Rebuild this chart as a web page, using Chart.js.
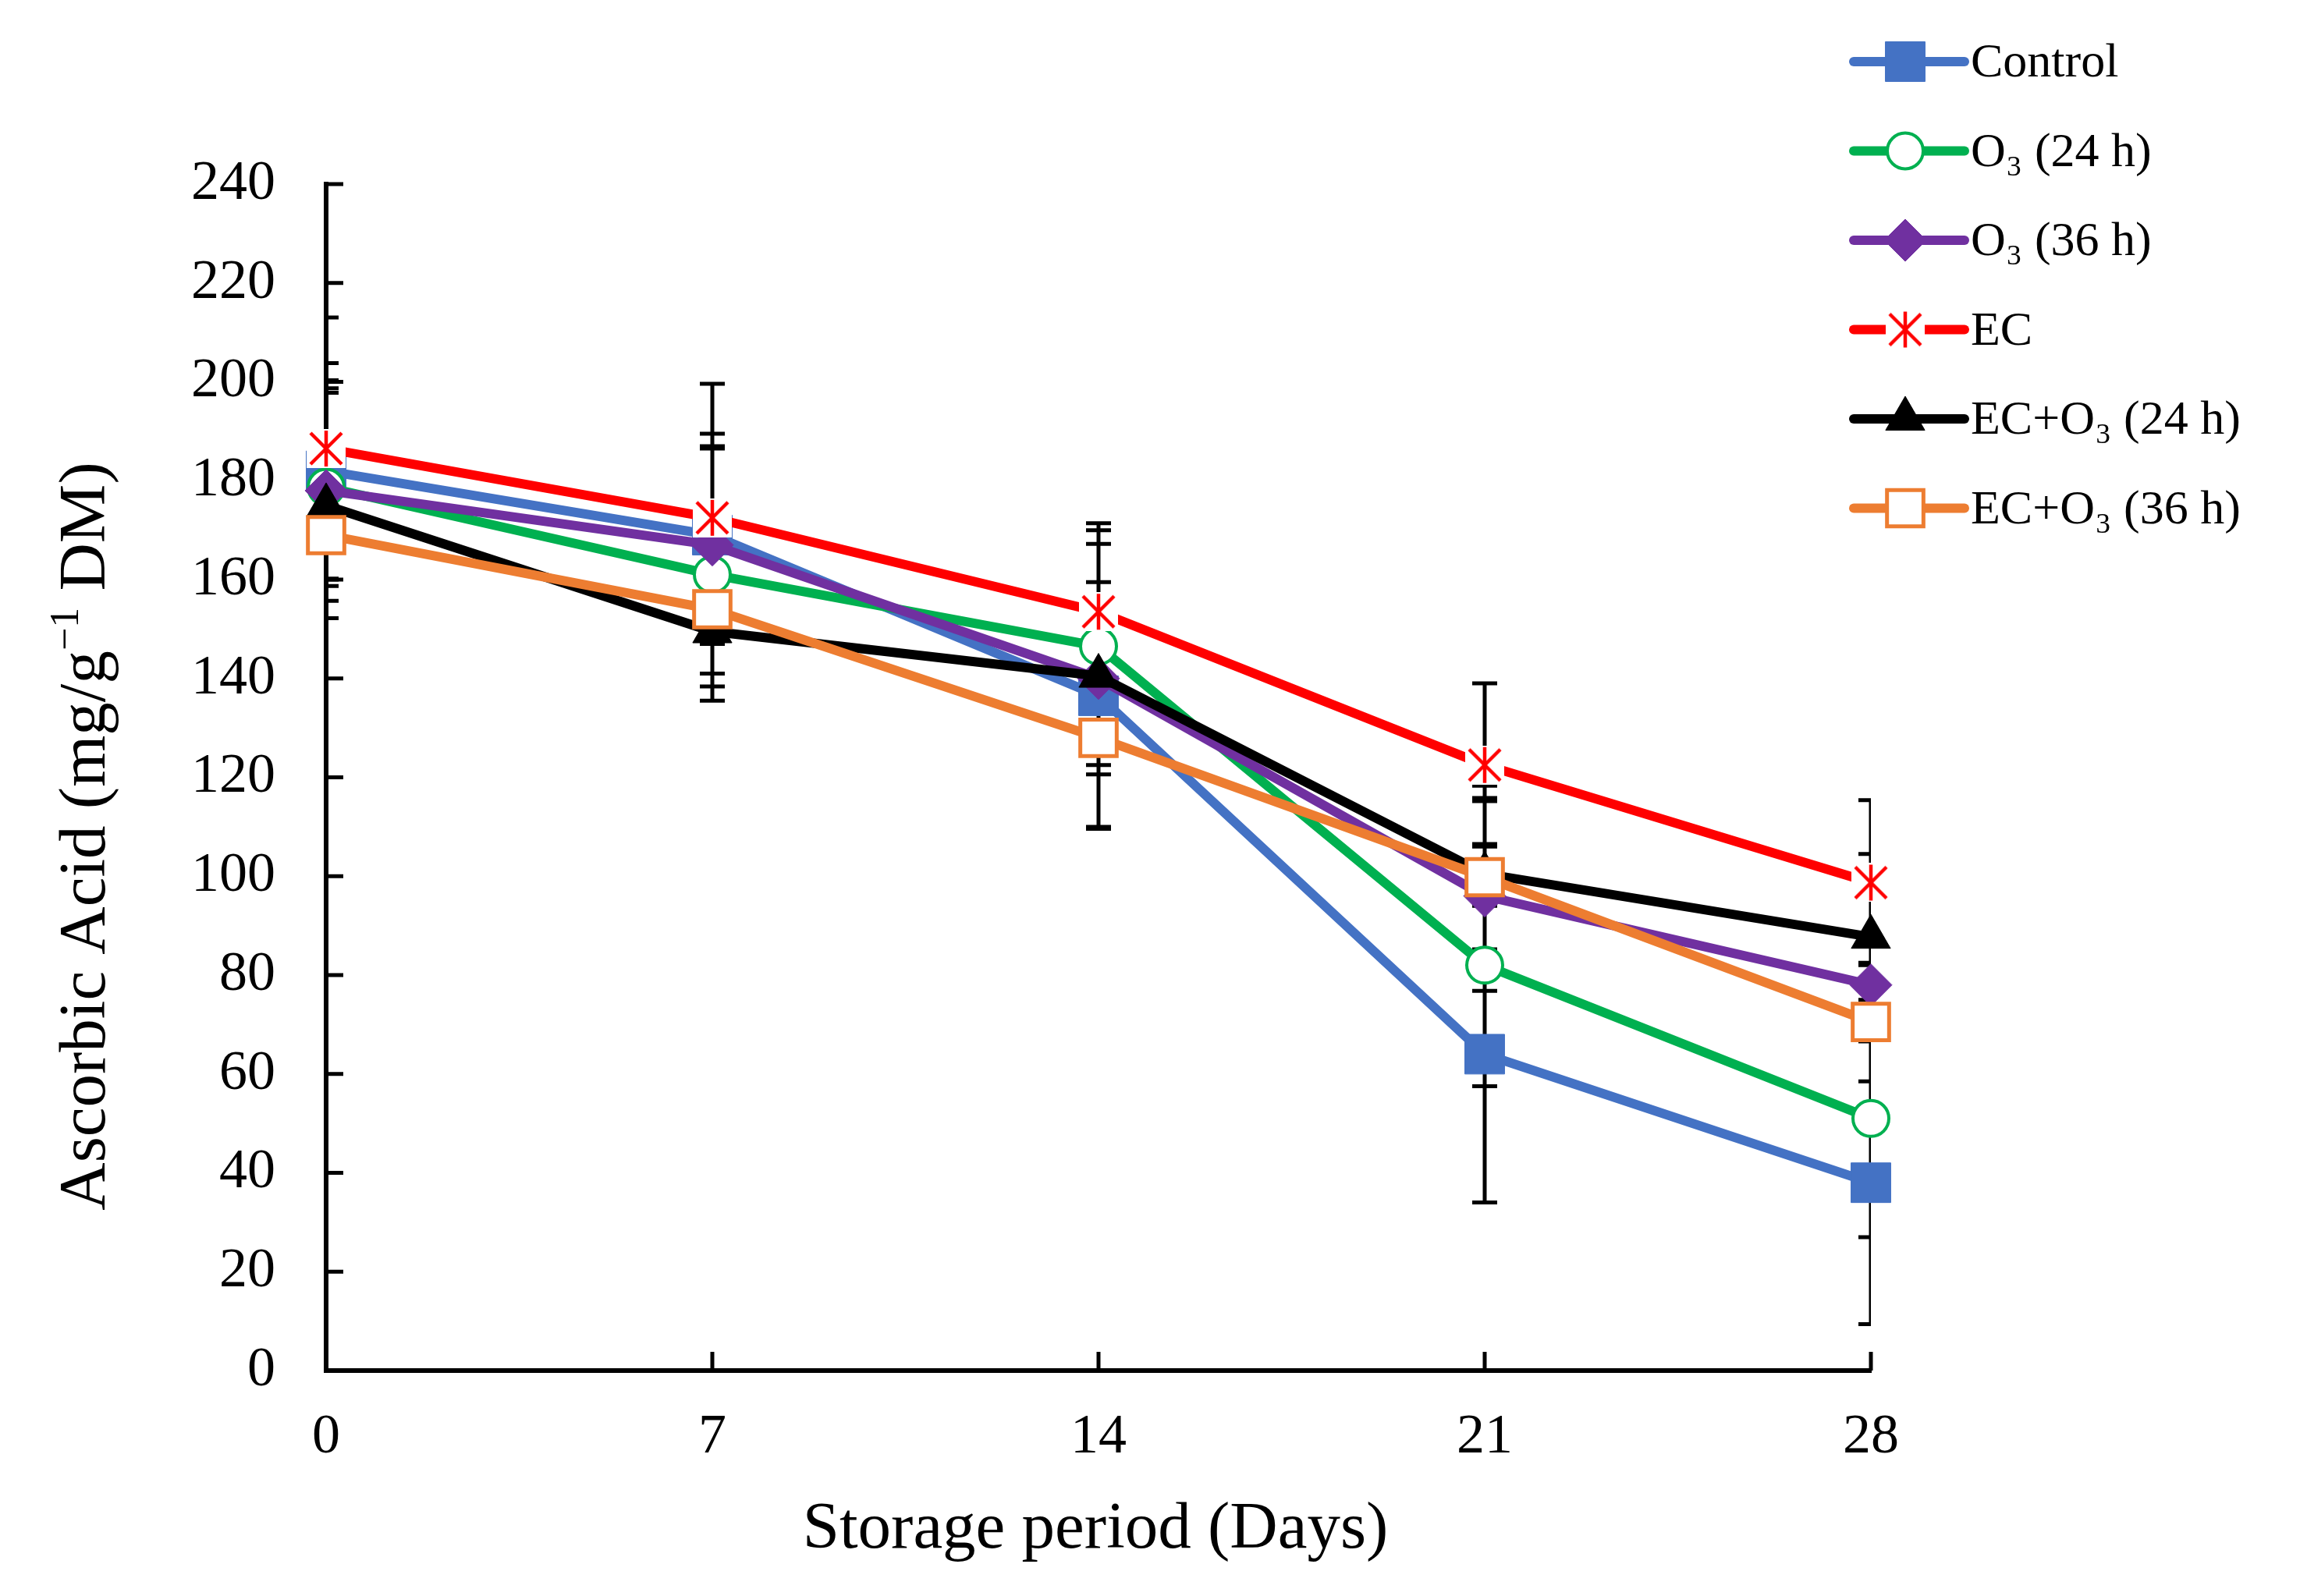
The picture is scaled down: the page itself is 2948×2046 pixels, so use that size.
<!DOCTYPE html>
<html>
<head>
<meta charset="utf-8">
<script src="https://cdn.jsdelivr.net/npm/chart.js@4.4.1/dist/chart.umd.min.js"></script>
<style>
  html, body { margin: 0; padding: 0; background: #fff; }
  #wrap { width: 2948px; height: 2046px; }
</style>
</head>
<body>
<div id="wrap"><canvas id="chart" width="2948" height="2046"></canvas></div>
<script>
// ---- data ----
const days = [0, 7, 14, 21, 28];
const yTickValues = [0, 20, 40, 60, 80, 100, 120, 140, 160, 180, 200, 220, 240];
const seriesLabels = ['Control', 'O\u2083 (24 h)', 'O\u2083 (36 h)', 'EC', 'EC+O\u2083 (24 h)', 'EC+O\u2083 (36 h)'];

const control  = [182, 169, 136.5, 64, 38];
const o3_24h   = [178.7, 161, 146.5, 82, 51];
const o3_36h   = [178, 167, 140, 96, 78];
const ec       = [186.5, 172.5, 153.5, 122.5, 98.7];
const ecO3_24h = [175, 149.5, 140.5, 100.5, 87.7];
const ecO3_36h = [169, 154, 128, 99.8, 70.5];

// error bars (+/-)
const controlSd  = [21.8, 30.6, 14, 30, 28.6];
const o3_24hSd   = [20, 25.5, 20.7, 24.5, 24];
const o3_36hSd   = [22.3, 20, 30, 19.2, 19.5];
const ecSd       = [26.5, 17, 6, 16.5, 16.7];
const ecO3_24hSd = [22.8, 14, 30.9, 15.3, 16.8];
const ecO3_36hSd = [3, 13, 7.4, 18.5, 12];

const xTitle = 'Storage period (Days)';

// ---- styles ----
const FONT = "'Liberation Serif', 'Times New Roman', serif";
const colors = ['#4472C4', '#00B050', '#7030A0', '#FF0000', '#000000', '#ED7D31'];

function makeStar(size, color) {
  const c = document.createElement('canvas');
  c.width = c.height = size;
  const g = c.getContext('2d');
  g.fillStyle = '#fff';
  g.fillRect(0, 0, size, size);
  g.strokeStyle = color;
  g.lineWidth = 4.5;
  const m = 5;
  g.beginPath();
  g.moveTo(m, m); g.lineTo(size - m, size - m);
  g.moveTo(size - m, m); g.lineTo(m, size - m);
  g.moveTo(size / 2, 2); g.lineTo(size / 2, size - 2);
  g.stroke();
  return c;
}
const star = makeStar(50, colors[3]);

const markers = [
  { pointStyle: 'rect', radius: 36, bg: colors[0], bw: 1 },
  { pointStyle: 'circle', radius: 23, bg: '#fff', bw: 4 },
  { pointStyle: 'rectRot', radius: 27, bg: colors[2], bw: 1 },
  { pointStyle: star, radius: 25, bg: '#fff', bw: 0 },
  { pointStyle: 'triangle', radius: 29, bg: colors[4], bw: 1 },
  { pointStyle: 'rect', radius: 33, bg: '#fff', bw: 5 }
];

const seriesValues = [control, o3_24h, o3_36h, ec, ecO3_24h, ecO3_36h];
const seriesSd = [controlSd, o3_24hSd, o3_36hSd, ecSd, ecO3_24hSd, ecO3_36hSd];

const datasets = seriesValues.map((vals, i) => ({
  label: seriesLabels[i],
  data: days.map((d, j) => ({ x: d, y: vals[j] })),
  errorBars: seriesSd[i],
  borderColor: colors[i],
  borderWidth: 12,
  backgroundColor: markers[i].bg,
  pointStyle: markers[i].pointStyle,
  pointRadius: markers[i].radius,
  pointBackgroundColor: markers[i].bg,
  pointBorderColor: colors[i],
  pointBorderWidth: markers[i].bw,
  tension: 0,
  clip: false,
  order: seriesValues.length - i
}));

// axis ticks pointing inward + error bars, under the series
const underPlugin = {
  id: 'under',
  beforeDatasetsDraw(chart) {
    const { ctx, chartArea: a, scales: { x, y } } = chart;
    ctx.save();
    ctx.strokeStyle = '#000';
    ctx.lineWidth = 5;
    ctx.beginPath();
    yTickValues.forEach(v => {
      const py = y.getPixelForValue(v);
      ctx.moveTo(a.left, py); ctx.lineTo(a.left + 22, py);
    });
    days.forEach(d => {
      const px = x.getPixelForValue(d);
      ctx.moveTo(px, a.bottom); ctx.lineTo(px, a.bottom - 24);
    });
    ctx.stroke();

    ctx.beginPath();
    ctx.rect(a.left, a.top, a.right - a.left, a.bottom - a.top);
    ctx.clip();
    ctx.lineWidth = 5;
    ctx.beginPath();
    chart.data.datasets.forEach(ds => {
      ds.data.forEach((p, j) => {
        const e = ds.errorBars[j];
        const px = x.getPixelForValue(p.x);
        const y1 = y.getPixelForValue(p.y + e);
        const y2 = y.getPixelForValue(p.y - e);
        ctx.moveTo(px, y1); ctx.lineTo(px, y2);
        ctx.moveTo(px - 16, y1); ctx.lineTo(px + 16, y1);
        ctx.moveTo(px - 16, y2); ctx.lineTo(px + 16, y2);
      });
    });
    ctx.stroke();
    ctx.restore();
  }
};

// axis titles and legend
const overPlugin = {
  id: 'over',
  afterDraw(chart) {
    const { ctx, chartArea: a } = chart;
    ctx.save();
    ctx.fillStyle = '#000';

    // x title
    ctx.font = '85px ' + FONT;
    ctx.textAlign = 'center';
    ctx.textBaseline = 'alphabetic';
    ctx.fillText(xTitle, (a.left + a.right) / 2 - 4, 1984);

    // y title with superscript
    const parts = [['Ascorbic Acid (mg/g', 85, 0], ['\u22121', 52, -34], [' DM)', 85, 0]];
    let total = 0;
    parts.forEach(p => { ctx.font = p[1] + 'px ' + FONT; total += ctx.measureText(p[0]).width; });
    ctx.translate(134, 1072);
    ctx.rotate(-Math.PI / 2);
    ctx.textAlign = 'left';
    let cx = -total / 2;
    parts.forEach(p => {
      ctx.font = p[1] + 'px ' + FONT;
      ctx.fillText(p[0], cx, p[2]);
      cx += ctx.measureText(p[0]).width;
    });
    ctx.setTransform(1, 0, 0, 1, 0, 0);

    // legend
    const lx1 = 2376, lx2 = 2518, mx = 2442, tx = 2526;
    chart.data.datasets.forEach((ds, i) => {
      const ly = 79 + i * 114.5;
      ctx.strokeStyle = ds.borderColor;
      ctx.lineWidth = 12;
      ctx.lineCap = 'round';
      ctx.beginPath();
      ctx.moveTo(lx1, ly); ctx.lineTo(lx2, ly);
      ctx.stroke();
      ctx.lineCap = 'butt';
      ctx.fillStyle = ds.pointBackgroundColor;
      ctx.strokeStyle = ds.pointBorderColor;
      ctx.lineWidth = ds.pointBorderWidth;
      Chart.helpers.drawPoint(ctx, {
        pointStyle: ds.pointStyle, radius: ds.pointRadius, rotation: 0, borderWidth: ds.pointBorderWidth
      }, mx, ly);
      ctx.fillStyle = '#000';
      ctx.font = '62px ' + FONT;
      ctx.textAlign = 'left';
      ctx.textBaseline = 'middle';
      ctx.fillText(ds.label, tx, ly + 3);
    });
    ctx.restore();
  }
};

new Chart(document.getElementById('chart'), {
  type: 'line',
  data: { datasets },
  plugins: [underPlugin, overPlugin],
  options: {
    responsive: false,
    devicePixelRatio: 1,
    animation: false,
    events: [],
    layout: { padding: { left: 0, top: 236, right: 550, bottom: 0 } },
    plugins: { legend: { display: false }, tooltip: { enabled: false } },
    scales: {
      x: {
        type: 'linear',
        min: 0,
        max: 28,
        afterBuildTicks: s => { s.ticks = days.map(v => ({ value: v })); },
        afterFit: s => { s.height = 2046 - 1757; s.paddingLeft = 0; s.paddingRight = 0; },
        grid: { display: false, drawTicks: false },
        border: { display: true, color: '#000', width: 6 },
        ticks: { color: '#000', font: { family: FONT, size: 72 }, padding: 43, maxRotation: 0 }
      },
      y: {
        type: 'linear',
        min: 0,
        max: 240,
        afterBuildTicks: s => { s.ticks = yTickValues.map(v => ({ value: v })); },
        afterFit: s => { s.width = 418; s.paddingTop = 0; s.paddingBottom = 0; },
        grid: { display: false, drawTicks: false },
        border: { display: true, color: '#000', width: 6 },
        ticks: { color: '#000', font: { family: FONT, size: 72 }, padding: 65 }
      }
    }
  }
});
</script>
</body>
</html>
